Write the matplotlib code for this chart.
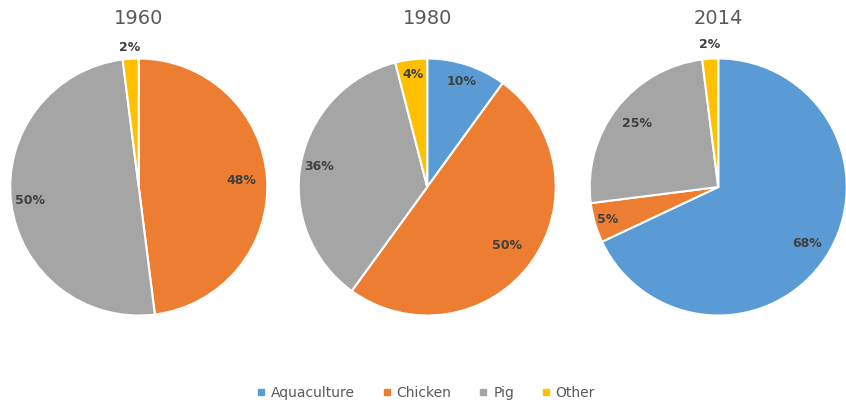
import numpy as np
import matplotlib.pyplot as plt
from matplotlib.lines import Line2D

categories = ["Aquaculture", "Chicken", "Pig", "Other"]
years = ["1960", "1980", "2014"]
share_1960 = [0, 48, 50, 2]
share_1980 = [10, 50, 36, 4]
share_2014 = [68, 5, 25, 2]

colors = ["#5B9BD5", "#ED7D31", "#A5A5A5", "#FFC000"]

# label distance from centre (fraction of radius) for each slice
label_r = [
    [0.0, 0.80, 0.85, 1.09],
    [0.86, 0.77, 0.86, 0.88],
    [0.82, 0.90, 0.80, 1.11],
]

fig = plt.figure(figsize=(8.46, 4.11), dpi=100)
centres = [0.164, 0.505, 0.849]
w, h = 257 / 846, 257 / 411

for k, (year, vals) in enumerate(zip(years, [share_1960, share_1980, share_2014])):
    ax = fig.add_axes([centres[k] - w / 2, 0.545 - h / 2, w, h])
    wedges, _ = ax.pie(vals, colors=colors, startangle=90, counterclock=False,
                       wedgeprops=dict(edgecolor="white", linewidth=1.5))
    ax.set_xlim(-1, 1)
    ax.set_ylim(-1, 1)
    ax.set_aspect("equal")
    ax.axis("off")
    for i, wd in enumerate(wedges):
        if vals[i] == 0:
            continue
        ang = np.deg2rad((wd.theta1 + wd.theta2) / 2)
        r = label_r[k][i]
        ax.text(r * np.cos(ang), r * np.sin(ang), f"{vals[i]}%",
                ha="center", va="center", fontsize=9, fontweight="bold",
                color="#404040", clip_on=False)
    fig.text(centres[k], 1 - 18 / 411, year, ha="center", va="center",
             fontsize=14, color="#595959")

handles = [Line2D([], [], marker="s", linestyle="", markersize=4.5,
                  markerfacecolor=c, markeredgecolor=c) for c in colors]
fig.legend(handles, categories, loc="center", bbox_to_anchor=(0.502, 1 - 393 / 411),
           ncol=4, frameon=False, fontsize=10, labelcolor="#595959",
           handletextpad=0.2, columnspacing=1.8, handlelength=1.0)

fig.savefig("out.png", dpi=100)
